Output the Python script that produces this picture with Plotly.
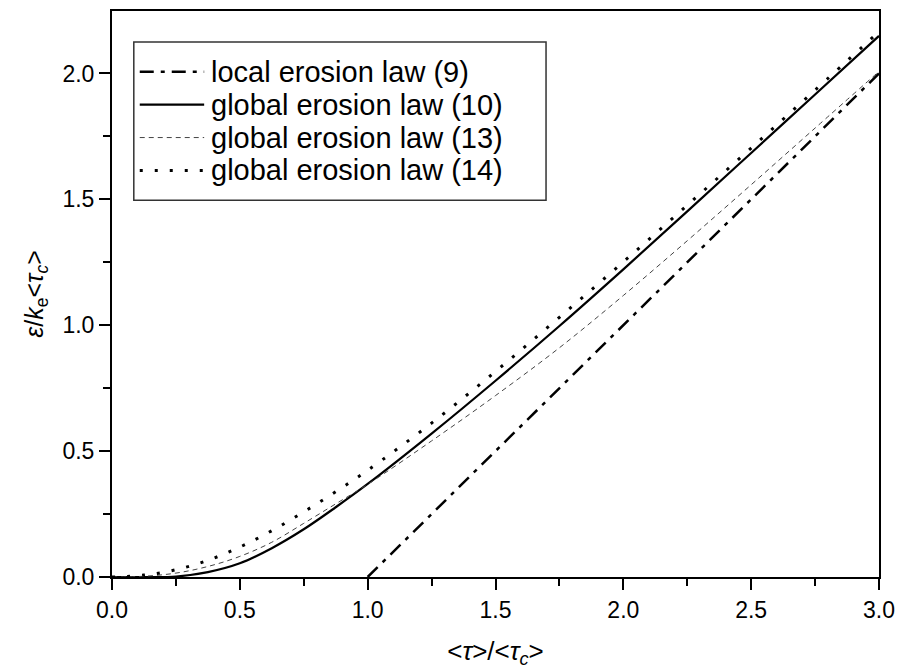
import plotly.graph_objects as go

# ---- data ----
tau_local = [1.0, 3.0]
eps_local = [0.0, 2.0]

tau_grid = [0.0, 0.125, 0.25, 0.375, 0.5, 0.625, 0.75, 0.875, 1.0,
            1.25, 1.5, 1.75, 2.0, 2.25, 2.5, 2.75, 3.0]
eps_law10 = [0.0, 0.0, 0.002, 0.0195, 0.0545, 0.1145, 0.1895, 0.277, 0.3695,
             0.5695, 0.7795, 0.997, 1.222, 1.452, 1.684, 1.9165, 2.149]
eps_law13 = [0.0, 0.003, 0.0155, 0.0418, 0.0818, 0.138, 0.213, 0.2905, 0.368,
             0.5405, 0.7205, 0.9105, 1.118, 1.3355, 1.558, 1.783, 2.008]
eps_law14 = [0.0, 0.0075, 0.0288, 0.0663, 0.1188, 0.1838, 0.2588, 0.3388, 0.4238,
             0.6113, 0.8163, 1.0313, 1.2513, 1.4763, 1.7038, 1.9338, 2.1663]

names = ["local erosion law (9)", "global erosion law (10)",
         "global erosion law (13)", "global erosion law (14)"]

x_ticks = [0.0, 0.5, 1.0, 1.5, 2.0, 2.5, 3.0]
y_ticks = [0.0, 0.5, 1.0, 1.5, 2.0]

# ---- styles ----
FONT = "Arial, Liberation Sans, Helvetica, sans-serif"
styles = [
    dict(color="black", width=2.5, dash="14px,7px,4px,7px"),
    dict(color="black", width=2.2, dash="solid"),
    dict(color="#444444", width=1, dash="5px,4px"),
    dict(color="black", width=3, dash="3px,12px"),
]

fig = go.Figure()
series = [(tau_local, eps_local), (tau_grid, eps_law10),
          (tau_grid, eps_law13), (tau_grid, eps_law14)]
for i, ((xs, ys), nm, st) in enumerate(zip(series, names, styles)):
    line = dict(**st)
    if i > 0:
        line.update(shape="spline", smoothing=1.0)
    fig.add_trace(go.Scatter(x=xs, y=ys, mode="lines", name=nm,
                             line=line, showlegend=False))

# ---- plot geometry in pixels ----
W, H = 904, 670
L, R, T, B = 112, 18, 9, 93
pw, ph = W - L - R, H - T - B

def px(xp):
    return (xp - L) / pw

def py(yp):
    return (H - B - yp) / ph

# ---- custom legend (box, samples, text) ----
shapes = [dict(type="rect", xref="paper", yref="paper",
               x0=px(134), x1=px(550), y0=py(199), y1=py(40),
               line=dict(color="#333333", width=1.5), fillcolor="white", layer="below")]
annotations = []
rows = [70, 103, 136, 169]
for nm, st, yr in zip(names, styles, rows):
    shapes.append(dict(type="line", xref="paper", yref="paper",
                       x0=px(140), x1=px(205), y0=py(yr), y1=py(yr),
                       line=dict(color=st["color"], width=st["width"], dash=st["dash"])))
    annotations.append(dict(xref="paper", yref="paper", x=px(210), y=py(yr),
                            text=nm, showarrow=False, xanchor="left", yanchor="middle",
                            font=dict(family=FONT, size=29, color="black")))

axis_common = dict(showline=True, linecolor="black", linewidth=2, mirror=True,
                   ticks="outside", ticklen=11, tickwidth=2, tickcolor="black",
                   showgrid=False, zeroline=False,
                   tickfont=dict(family=FONT, size=23, color="black"),
                   tickformat=".1f")

fig.update_layout(
    width=W, height=H,
    margin=dict(l=L, r=R, t=T, b=B, pad=0),
    paper_bgcolor="white", plot_bgcolor="white",
    showlegend=False,
    shapes=shapes, annotations=annotations,
    xaxis=dict(range=[0, 3.0], tickvals=x_ticks,
               minor=dict(dtick=0.25, ticks="outside", ticklen=7, tickwidth=2, tickcolor="black"),
               title=dict(text="&lt;<i>τ</i>&gt;/&lt;<i>τ</i><sub><i>c</i></sub>&gt;",
                          font=dict(family=FONT, size=26, color="black"), standoff=20),
               **axis_common),
    yaxis=dict(range=[0, 2.248], tickvals=y_ticks,
               minor=dict(dtick=0.25, ticks="outside", ticklen=7, tickwidth=2, tickcolor="black"),
               title=dict(text="<i>ε</i>/<i>k</i><sub>e</sub>&lt;<i>τ</i><sub><i>c</i></sub>&gt;",
                          font=dict(family=FONT, size=25, color="black"), standoff=12),
               **axis_common),
)

fig.write_html("out.html", config={"displayModeBar": False},
               post_script="document.body.style.margin='0px';document.body.style.overflow='hidden';")
